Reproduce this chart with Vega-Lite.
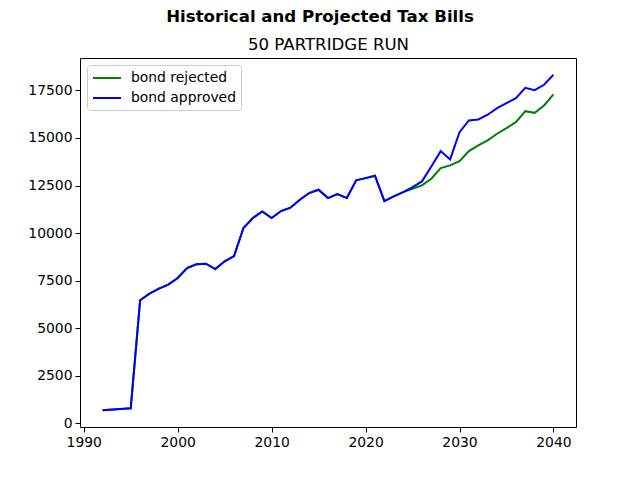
{
  "$schema": "https://vega.github.io/schema/vega-lite/v6.json",
  "width": 496,
  "height": 369,
  "autosize": {"type": "none"},
  "padding": {"left": 80, "top": 58, "right": 64, "bottom": 53},
  "background": "white",
  "title": {
    "text": "Historical and Projected Tax Bills",
    "font": "DejaVu Sans",
    "fontSize": 16.6,
    "fontWeight": "bold",
    "color": "black",
    "offset": 10,
    "dx": -8,
    "anchor": "middle"
  },
  "config": {
    "view": {"stroke": "black", "strokeWidth": 1},
    "axis": {
      "grid": false,
      "domain": false,
      "tickColor": "black",
      "tickSize": 5,
      "tickWidth": 1,
      "labelFont": "DejaVu Sans",
      "labelFontSize": 13.9,
      "labelColor": "black",
      "labelPadding": 3
    }
  },
  "data": {
    "values": [
      {"year": 1992, "series": "bond approved", "value": 683},
      {"year": 1995, "series": "bond approved", "value": 790},
      {"year": 1996, "series": "bond approved", "value": 6464},
      {"year": 1997, "series": "bond approved", "value": 6815},
      {"year": 1998, "series": "bond approved", "value": 7078},
      {"year": 1999, "series": "bond approved", "value": 7290},
      {"year": 2000, "series": "bond approved", "value": 7636},
      {"year": 2001, "series": "bond approved", "value": 8161},
      {"year": 2002, "series": "bond approved", "value": 8355},
      {"year": 2003, "series": "bond approved", "value": 8390},
      {"year": 2004, "series": "bond approved", "value": 8109},
      {"year": 2005, "series": "bond approved", "value": 8513},
      {"year": 2006, "series": "bond approved", "value": 8793},
      {"year": 2007, "series": "bond approved", "value": 10264},
      {"year": 2008, "series": "bond approved", "value": 10790},
      {"year": 2009, "series": "bond approved", "value": 11141},
      {"year": 2010, "series": "bond approved", "value": 10790},
      {"year": 2011, "series": "bond approved", "value": 11159},
      {"year": 2012, "series": "bond approved", "value": 11334},
      {"year": 2013, "series": "bond approved", "value": 11755},
      {"year": 2014, "series": "bond approved", "value": 12105},
      {"year": 2015, "series": "bond approved", "value": 12280},
      {"year": 2016, "series": "bond approved", "value": 11840},
      {"year": 2017, "series": "bond approved", "value": 12050},
      {"year": 2018, "series": "bond approved", "value": 11840},
      {"year": 2019, "series": "bond approved", "value": 12770},
      {"year": 2020, "series": "bond approved", "value": 12890},
      {"year": 2021, "series": "bond approved", "value": 13015},
      {"year": 2022, "series": "bond approved", "value": 11683},
      {"year": 2023, "series": "bond approved", "value": 11930},
      {"year": 2024, "series": "bond approved", "value": 12155},
      {"year": 2025, "series": "bond approved", "value": 12418},
      {"year": 2026, "series": "bond approved", "value": 12717},
      {"year": 2027, "series": "bond approved", "value": 13505},
      {"year": 2028, "series": "bond approved", "value": 14310},
      {"year": 2029, "series": "bond approved", "value": 13873},
      {"year": 2030, "series": "bond approved", "value": 15308},
      {"year": 2031, "series": "bond approved", "value": 15923},
      {"year": 2032, "series": "bond approved", "value": 15975},
      {"year": 2033, "series": "bond approved", "value": 16222},
      {"year": 2034, "series": "bond approved", "value": 16569},
      {"year": 2035, "series": "bond approved", "value": 16832},
      {"year": 2036, "series": "bond approved", "value": 17095},
      {"year": 2037, "series": "bond approved", "value": 17641},
      {"year": 2038, "series": "bond approved", "value": 17519},
      {"year": 2039, "series": "bond approved", "value": 17799},
      {"year": 2040, "series": "bond approved", "value": 18325},
      {"year": 1992, "series": "bond rejected", "value": 683},
      {"year": 1995, "series": "bond rejected", "value": 790},
      {"year": 1996, "series": "bond rejected", "value": 6464},
      {"year": 1997, "series": "bond rejected", "value": 6815},
      {"year": 1998, "series": "bond rejected", "value": 7078},
      {"year": 1999, "series": "bond rejected", "value": 7290},
      {"year": 2000, "series": "bond rejected", "value": 7636},
      {"year": 2001, "series": "bond rejected", "value": 8161},
      {"year": 2002, "series": "bond rejected", "value": 8355},
      {"year": 2003, "series": "bond rejected", "value": 8390},
      {"year": 2004, "series": "bond rejected", "value": 8109},
      {"year": 2005, "series": "bond rejected", "value": 8513},
      {"year": 2006, "series": "bond rejected", "value": 8793},
      {"year": 2007, "series": "bond rejected", "value": 10264},
      {"year": 2008, "series": "bond rejected", "value": 10790},
      {"year": 2009, "series": "bond rejected", "value": 11141},
      {"year": 2010, "series": "bond rejected", "value": 10790},
      {"year": 2011, "series": "bond rejected", "value": 11159},
      {"year": 2012, "series": "bond rejected", "value": 11334},
      {"year": 2013, "series": "bond rejected", "value": 11755},
      {"year": 2014, "series": "bond rejected", "value": 12105},
      {"year": 2015, "series": "bond rejected", "value": 12280},
      {"year": 2016, "series": "bond rejected", "value": 11840},
      {"year": 2017, "series": "bond rejected", "value": 12050},
      {"year": 2018, "series": "bond rejected", "value": 11840},
      {"year": 2019, "series": "bond rejected", "value": 12770},
      {"year": 2020, "series": "bond rejected", "value": 12890},
      {"year": 2021, "series": "bond rejected", "value": 13015},
      {"year": 2022, "series": "bond rejected", "value": 11683},
      {"year": 2023, "series": "bond rejected", "value": 11930},
      {"year": 2024, "series": "bond rejected", "value": 12155},
      {"year": 2025, "series": "bond rejected", "value": 12330},
      {"year": 2026, "series": "bond rejected", "value": 12507},
      {"year": 2027, "series": "bond rejected", "value": 12857},
      {"year": 2028, "series": "bond rejected", "value": 13416},
      {"year": 2029, "series": "bond rejected", "value": 13558},
      {"year": 2030, "series": "bond rejected", "value": 13784},
      {"year": 2031, "series": "bond rejected", "value": 14310},
      {"year": 2032, "series": "bond rejected", "value": 14609},
      {"year": 2033, "series": "bond rejected", "value": 14872},
      {"year": 2034, "series": "bond rejected", "value": 15224},
      {"year": 2035, "series": "bond rejected", "value": 15518},
      {"year": 2036, "series": "bond rejected", "value": 15834},
      {"year": 2037, "series": "bond rejected", "value": 16412},
      {"year": 2038, "series": "bond rejected", "value": 16324},
      {"year": 2039, "series": "bond rejected", "value": 16710},
      {"year": 2040, "series": "bond rejected", "value": 17290}
    ]
  },
  "encoding": {
    "y": {
      "field": "value",
      "type": "quantitative",
      "scale": {"domain": [-199, 19207], "nice": false, "zero": false},
      "axis": {"values": [0, 2500, 5000, 7500, 10000, 12500, 15000, 17500], "format": "d", "title": null}
    },
    "color": {
      "field": "series",
      "type": "nominal",
      "scale": {"domain": ["bond rejected", "bond approved"], "range": ["#008000", "#0000ff"]},
      "legend": {
        "title": null,
        "orient": "top-left",
        "offset": 7,
        "labelFont": "DejaVu Sans",
        "labelFontSize": 13.9,
        "labelColor": "black",
        "labelOffset": 16,
        "symbolType": "M-2,0H2",
        "symbolSize": 196,
        "symbolOffset": 7,
        "symbolStrokeWidth": 2,
        "rowPadding": 5,
        "padding": 5,
        "strokeColor": "#cccccc",
        "fillColor": "white",
        "cornerRadius": 3
      }
    }
  },
  "resolve": {"axis": {"x": "independent"}},
  "layer": [
    {
      "transform": [{"filter": "datum.series === 'bond rejected'"}],
      "mark": {"type": "line", "strokeWidth": 2},
      "encoding": {
        "x": {
          "field": "year",
          "type": "quantitative",
          "scale": {"domain": [1989.6, 2042.4], "nice": false, "zero": false},
          "axis": {"orient": "bottom", "values": [1990, 2000, 2010, 2020, 2030, 2040], "format": "d", "title": null}
        }
      }
    },
    {
      "transform": [{"filter": "datum.series === 'bond approved'"}],
      "mark": {"type": "line", "strokeWidth": 2},
      "encoding": {
        "x": {
          "field": "year",
          "type": "quantitative",
          "scale": {"domain": [1989.6, 2042.4], "nice": false, "zero": false},
          "axis": {
            "orient": "top",
            "ticks": false,
            "labels": false,
            "domain": false,
            "title": "50 PARTRIDGE RUN",
            "titleFont": "DejaVu Sans",
            "titleFontSize": 16.6,
            "titleFontWeight": "normal",
            "titleColor": "black",
            "titlePadding": 6
          }
        }
      }
    }
  ]
}
